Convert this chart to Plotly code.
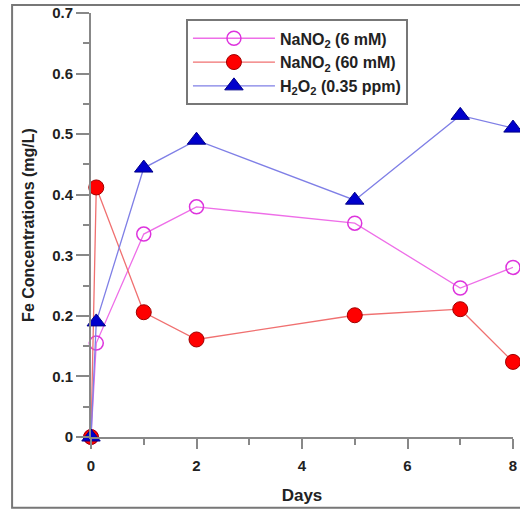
import plotly.graph_objects as go

days = [0, 0.1, 1, 2, 5, 7, 8]
nano2_6 = [0, 0.155, 0.335, 0.38, 0.353, 0.246, 0.28]
nano2_60 = [0, 0.412, 0.206, 0.161, 0.201, 0.211, 0.124]
h2o2 = [0, 0.19, 0.444, 0.49, 0.391, 0.531, 0.51]
names = ["NaNO<sub>2</sub> (6 mM)", "NaNO<sub>2</sub> (60 mM)", "H<sub>2</sub>O<sub>2</sub> (0.35 ppm)"]

fig = go.Figure()
fig.add_trace(go.Scatter(x=days, y=nano2_6, name=names[0], mode="lines+markers",
                         line=dict(color="#ee6ee8", width=1.3),
                         marker=dict(symbol="circle-open", size=14, color="#dd33dd", line=dict(width=1.5)),
                         cliponaxis=False))
fig.add_trace(go.Scatter(x=days, y=nano2_60, name=names[1], mode="lines+markers",
                         line=dict(color="#f07070", width=1.3),
                         marker=dict(symbol="circle", size=15, color="#ff0000", line=dict(color="#a00000", width=1)),
                         cliponaxis=False))
fig.add_trace(go.Scatter(x=days, y=h2o2, name=names[2], mode="lines+markers",
                         line=dict(color="#7f7fe6", width=1.3),
                         marker=dict(symbol="triangle-up", size=16, color="#0000cc", line=dict(color="#000088", width=1)),
                         cliponaxis=False))

FONT = "Liberation Sans, Arial"
fig.update_layout(
    width=520, height=512,
    margin=dict(l=91, r=7, t=13, b=75, autoexpand=False),
    paper_bgcolor="white", plot_bgcolor="white",
    showlegend=True,
    legend=dict(x=0.225, y=0.985, xanchor="left", yanchor="top",
                bordercolor="#777777", borderwidth=2, bgcolor="white",
                font=dict(family=FONT, size=16, color="#222222", weight="bold"),
                itemwidth=82, tracegroupgap=4),
    xaxis=dict(range=[0, 8], tick0=0, dtick=2, showgrid=False, zeroline=False,
               showline=True, linecolor="#888888", linewidth=2,
               ticks="outside", ticklen=10, tickwidth=2, tickcolor="#888888",
               ticklabelstandoff=4,
               tickfont=dict(family=FONT, size=15, color="#222222", weight="bold"),
               minor=dict(dtick=1, ticks="outside", ticklen=6, tickwidth=2, tickcolor="#888888"),
               title=dict(text="Days", standoff=16,
                          font=dict(family=FONT, size=17, color="#222222", weight="bold"))),
    yaxis=dict(range=[0, 0.7], tick0=0, dtick=0.1, showgrid=False, zeroline=False,
               showline=True, linecolor="#888888", linewidth=2,
               ticks="outside", ticklen=13, tickwidth=2, tickcolor="#888888",
               tickfont=dict(family=FONT, size=15, color="#222222", weight="bold"),
               minor=dict(dtick=0.05, ticks="outside", ticklen=6, tickwidth=2, tickcolor="#888888"),
               title=dict(text="Fe Concentrations (mg/L)", standoff=14,
                          font=dict(family=FONT, size=16, color="#222222", weight="bold"))),
)
fig.add_shape(type="rect", xref="paper", yref="paper", x0=-0.187, x1=1.05, y0=-0.167, y1=1.019,
              line=dict(color="#777777", width=2), layer="below")
fig.write_html("out.html", config={"displayModeBar": False},
               post_script="document.body.style.margin='0px';")
